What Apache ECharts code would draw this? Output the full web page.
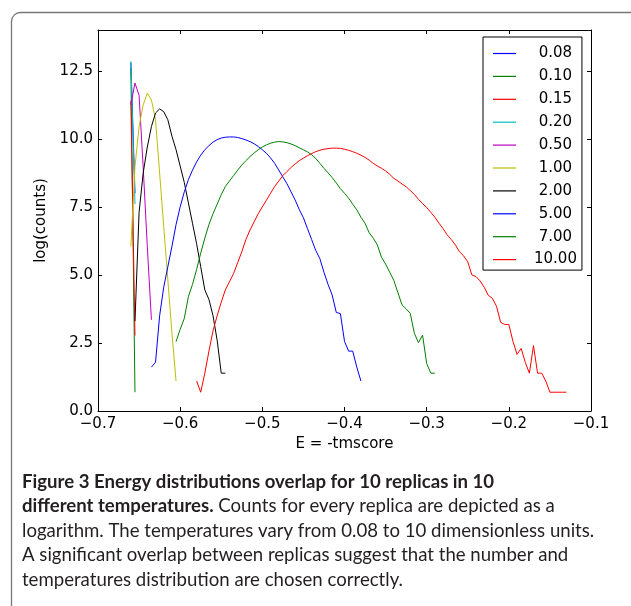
<!DOCTYPE html>
<html>
<head>
<meta charset="utf-8">
<script src="https://cdn.jsdelivr.net/npm/echarts@6/dist/echarts.min.js"></script>
<style>
html,body{margin:0;padding:0;background:#fff;}
#chart{width:631px;height:606px;}
</style>
</head>
<body>
<div id="chart"></div>
<script>
// ---- data ----
const temperatures = ['0.08','0.10','0.15','0.20','0.50','1.00','2.00','5.00','7.00','10.00'];
const seriesColors = ['#0000ff','#008000','#ff0000','#00bfbf','#bf00bf','#bfbf00','#000000','#0000ff','#008000','#ff0000'];
const binWidth = 0.005;
const binStart = [-0.66, -0.66, -0.66, -0.66, -0.66, -0.66, -0.655, -0.635, -0.605, -0.58];

const logCounts008 = [12.8, 8.0];
const logCounts010 = [12.6, 0.69];
const logCounts015 = [11.4, 2.77];
const logCounts020 = [12.85, 7.6];
const logCounts050 = [11.25, 12.05, 11.6, 8.95, 6.05, 3.35];
const logCounts100 = [6.04, 8.98, 10.45, 11.25, 11.68, 11.43, 10.7, 8.74, 6.78, 4.82, 2.86, 1.1];
const logCounts200 = [3.3, 7.3, 8.75, 9.7, 10.45, 10.95, 11.1, 11.0, 10.7, 10.1, 9.6, 9.0, 8.4, 7.65, 6.9, 6.15, 5.3, 4.45, 4.1, 3.5, 2.6, 1.39, 1.39];
const logCounts500 = [1.61, 1.79, 3.5, 4.55, 5.3, 6.05, 6.85, 7.5, 8.05, 8.5, 8.85, 9.15, 9.4, 9.6, 9.75, 9.88, 9.97, 10.03, 10.06, 10.07,
  10.07, 10.05, 10.01, 9.96, 9.9, 9.82, 9.72, 9.6, 9.47, 9.3, 9.1, 8.85, 8.6, 8.35, 8.05, 7.75, 7.4, 7.1, 6.7, 6.3,
  5.9, 5.6, 5.1, 4.65, 4.26, 3.62, 3.58, 2.56, 2.2, 2.2, 1.61, 1.1];
const logCounts700 = [2.55, 3.0, 3.4, 4.2, 4.65, 5.2, 5.8, 6.35, 6.85, 7.25, 7.6, 7.95, 8.25, 8.45, 8.65, 8.85, 9.04, 9.2, 9.35, 9.48,
  9.6, 9.7, 9.78, 9.84, 9.88, 9.9, 9.89, 9.86, 9.81, 9.75, 9.67, 9.6, 9.52, 9.42, 9.28, 9.1, 8.92, 8.75, 8.58, 8.38,
  8.17, 8.0, 7.82, 7.6, 7.39, 7.12, 6.9, 6.55, 6.35, 6.1, 5.65, 5.4, 5.1, 4.8, 4.35, 3.9, 3.75, 3.59, 2.86, 2.51,
  2.79, 1.75, 1.39, 1.39];
const logCounts1000 = [1.1, 0.69, 1.39, 2.2, 2.95, 3.5, 4.0, 4.45, 4.75, 5.05, 5.45, 5.85, 6.3, 6.65, 6.95, 7.25, 7.5, 7.75, 8.0, 8.25,
  8.45, 8.65, 8.8, 8.95, 9.08, 9.2, 9.29, 9.38, 9.46, 9.53, 9.58, 9.62, 9.64, 9.66, 9.66, 9.65, 9.62, 9.58, 9.53, 9.47,
  9.4, 9.32, 9.22, 9.1, 9.0, 8.92, 8.82, 8.7, 8.55, 8.45, 8.34, 8.24, 8.1, 7.96, 7.78, 7.62, 7.48, 7.3, 7.12, 6.9,
  6.7, 6.47, 6.3, 6.1, 5.85, 5.7, 5.48, 5.0, 4.94, 4.78, 4.55, 4.25, 4.14, 3.85, 3.26, 3.18, 3.18, 2.56, 2.08, 2.3,
  1.79, 1.39, 2.4, 1.39, 1.39, 1.1, 0.69, 0.69, 0.69, 0.69, 0.69];
const allLogCounts = [logCounts008, logCounts010, logCounts015, logCounts020, logCounts050, logCounts100, logCounts200, logCounts500, logCounts700, logCounts1000];

const xTicks = [-0.7, -0.6, -0.5, -0.4, -0.3, -0.2, -0.1];
const yTicks = [0, 2.5, 5, 7.5, 10, 12.5];

const captionLines = [
  '{b|Figure 3 Energy distributions overlap for 10 replicas in 10}',
  '{b|different temperatures.} Counts for every replica are depicted as a',
  'logarithm. The temperatures vary from 0.08 to 10 dimensionless units.',
  'A significant overlap between replicas suggest that the number and',
  'temperatures distribution are chosen correctly.'
];

// ---- chart ----
const plotFont = 'DejaVu Sans';
const fmtX = v => (v < 0 ? '\u2212' : '') + Math.abs(v).toFixed(1);
const series = temperatures.map((t, k) => ({
  name: t,
  type: 'line',
  xAxisIndex: 0, yAxisIndex: 0,
  symbol: 'none',
  showSymbol: false,
  itemStyle: { color: seriesColors[k] },
  lineStyle: { width: 1, color: seriesColors[k] },
  data: allLogCounts[k].map((v, i) => [+(binStart[k] + i * binWidth).toFixed(3), v]),
  animation: false
}));

const captionFont = 18.6;
const captionGraphics = captionLines.map((line, i) => ({
  type: 'text',
  left: 22,
  top: 472 + i * 24.5,
  style: {
    text: line,
    fontFamily: 'Lato',
    fontSize: captionFont,
    fill: '#231f20',
    rich: { b: { fontFamily: 'Lato', fontSize: captionFont, fontWeight: 'bold', fill: '#231f20' } }
  }
}));

const commonAxisLine = { show: true, onZero: false, lineStyle: { color: '#000', width: 1 } };
const commonTick = { show: true, inside: true, length: 4, lineStyle: { color: '#000', width: 1 } };

const option = {
  animation: false,
  backgroundColor: '#fff',
  grid: { left: 98, top: 30, right: 40, bottom: 195, containLabel: false },
  xAxis: [
    { type: 'value', position: 'bottom', min: xTicks[0], max: xTicks[xTicks.length - 1], interval: 0.1,
      axisLine: commonAxisLine, axisTick: commonTick, splitLine: { show: false },
      axisLabel: { formatter: fmtX, fontFamily: plotFont, fontSize: 15, color: '#000', margin: 6 },
      name: 'E = -tmscore', nameLocation: 'middle', nameGap: 19,
      nameTextStyle: { fontFamily: plotFont, fontSize: 15, color: '#000', verticalAlign: 'top' } },
    { type: 'value', position: 'top', min: xTicks[0], max: xTicks[xTicks.length - 1], interval: 0.1,
      axisLine: commonAxisLine, axisTick: commonTick, splitLine: { show: false }, axisLabel: { show: false } }
  ],
  yAxis: [
    { type: 'value', position: 'left', min: 0, max: 14, interval: 2.5,
      axisLine: commonAxisLine, axisTick: commonTick, splitLine: { show: false },
      axisLabel: { formatter: v => (yTicks.indexOf(v) >= 0 ? v.toFixed(1) : ''), fontFamily: plotFont, fontSize: 15, color: '#000', margin: 5 },
      name: 'log(counts)', nameLocation: 'middle', nameGap: 42, nameRotate: 90,
      nameTextStyle: { fontFamily: plotFont, fontSize: 15, color: '#000' } },
    { type: 'value', position: 'right', min: 0, max: 14, interval: 2.5,
      axisLine: commonAxisLine, axisTick: commonTick, splitLine: { show: false }, axisLabel: { show: false } }
  ],
  legend: {
    show: true,
    orient: 'vertical',
    left: 483, top: 37,
    icon: 'rect',
    itemWidth: 23, itemHeight: 1.2, itemGap: 7.9,
    padding: [9, 5, 3, 10],
    borderColor: '#000', borderWidth: 1,
    backgroundColor: '#fff',
    formatter: n => (n.length < 5 ? ' ' + n : n),
    textStyle: { fontFamily: plotFont, fontSize: 15, color: '#000', padding: [0, 0, 0, 13] },
    data: temperatures.slice(),
    selectedMode: false
  },
  graphic: [
    { type: 'rect', z: -1, shape: { x: 11.5, y: 12.5, width: 660, height: 640, r: 9 },
      style: { fill: null, stroke: '#777', lineWidth: 1.3 } }
  ].concat(captionGraphics),
  series: series
};

const chart = echarts.init(document.getElementById('chart'), null, { renderer: 'canvas' });
chart.setOption(option);
</script>
</body>
</html>
